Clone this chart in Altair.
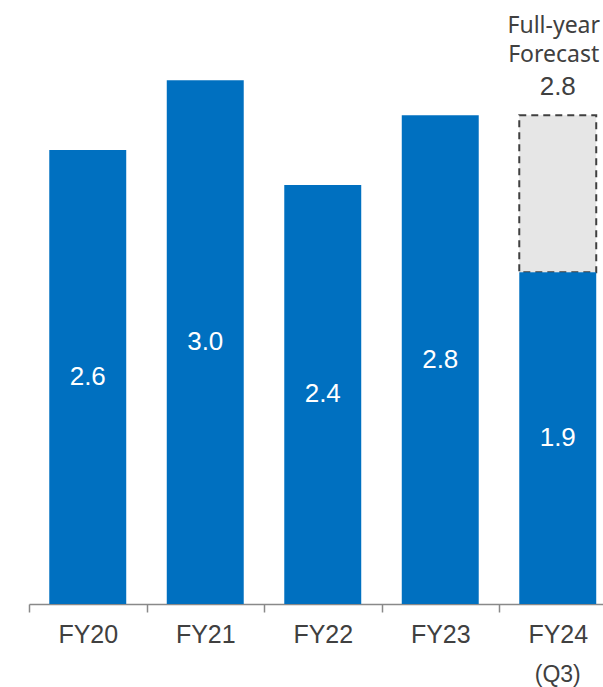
import altair as alt
import pandas as pd

years = ["FY20", "FY21", "FY22", "FY23", "FY24"]
results = [2.6, 3.0, 2.4, 2.8, 1.9]
forecast_year = "FY24"
forecast_value = 2.8
forecast_title = ["Full-year", "Forecast"]
period_note = "(Q3)"

df = pd.DataFrame({"year": years, "value": results})
df["mid"] = df["value"] / 2
df["label"] = df["value"].map(lambda v: f"{v:.1f}")

fc = pd.DataFrame({
    "year": [forecast_year],
    "start": [results[-1]],
    "end": [forecast_value],
    "label": [f"{forecast_value:.1f}"],
    "title1": [forecast_title[0]],
    "title2": [forecast_title[1]],
    "note": [period_note],
    "zero": [0.0],
})

BLUE = "#0070C0"
TXT = "#404040"
AX = "#898989"
NUM_FONT = "Liberation Sans"
TITLE_FONT = "Noto Sans"

x_enc = alt.X(
    "year:N",
    sort=years,
    scale=alt.Scale(range=[0, 587.5], paddingInner=0.345, paddingOuter=0.1725),
    axis=alt.Axis(
        title=None, labelAngle=0, labelFontSize=25, labelFont=NUM_FONT,
        labelColor=TXT, tickSize=8, tickColor=AX, domainColor=AX,
        tickWidth=1.5, domainWidth=1.5, tickOffset=-58.75, labelOffset=58.75,
        labelPadding=10,
    ),
)
y_scale = alt.Scale(domain=[0, 3.4])

forecast_bar = alt.Chart(fc).mark_bar(
    fill="#E6E6E6", stroke="#404040", strokeWidth=2, strokeDash=[7, 5]
).encode(
    x=x_enc,
    y=alt.Y("end:Q", scale=y_scale, axis=None),
    y2="start:Q",
)

bars = alt.Chart(df).mark_bar(color=BLUE).encode(
    x=x_enc,
    y=alt.Y("value:Q", scale=y_scale, axis=None),
)

bar_labels = alt.Chart(df).mark_text(
    color="white", font=NUM_FONT, fontSize=26, baseline="middle", align="center"
).encode(
    x=x_enc,
    y=alt.Y("mid:Q", scale=y_scale, axis=None),
    text="label:N",
)

fc_value = alt.Chart(fc).mark_text(
    color=TXT, font=NUM_FONT, fontSize=26, baseline="alphabetic", align="center", dy=-20
).encode(
    x=x_enc, y=alt.Y("end:Q", scale=y_scale, axis=None), text="label:N"
)

fc_t2 = alt.Chart(fc).mark_text(
    color=TXT, font=TITLE_FONT, fontSize=23, baseline="alphabetic", align="center", dy=-53, dx=-4
).encode(
    x=x_enc, y=alt.Y("end:Q", scale=y_scale, axis=None), text="title2:N"
)

fc_t1 = alt.Chart(fc).mark_text(
    color=TXT, font=TITLE_FONT, fontSize=23, baseline="alphabetic", align="center", dy=-82, dx=-4
).encode(
    x=x_enc, y=alt.Y("end:Q", scale=y_scale, axis=None), text="title1:N"
)

note = alt.Chart(fc).mark_text(
    color=TXT, font=NUM_FONT, fontSize=23, baseline="alphabetic", align="center", dy=78
).encode(
    x=x_enc, y=alt.Y("zero:Q", scale=y_scale, axis=None), text="note:N"
)

chart = alt.layer(
    forecast_bar, bars, bar_labels, fc_value, fc_t2, fc_t1, note
).properties(
    width=574, height=593.6,
    autosize=alt.AutoSizeParams(type="none"),
    padding={"left": 29, "top": 10.4, "right": 0, "bottom": 83},
    background="white",
).configure_view(stroke=None)

chart.save("out.html", embed_options={"renderer": "svg", "actions": False})
